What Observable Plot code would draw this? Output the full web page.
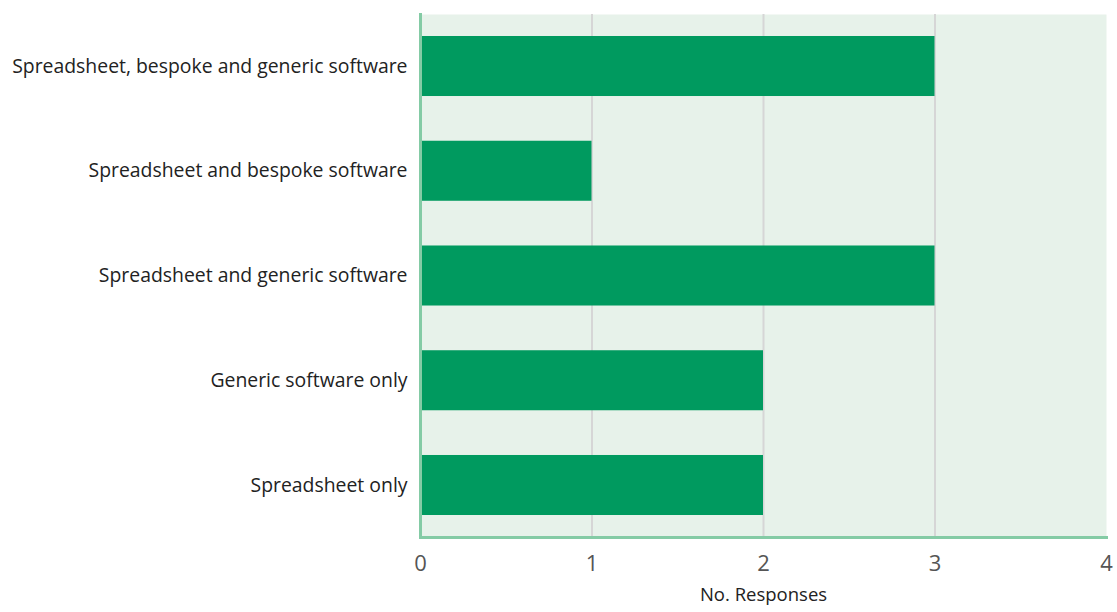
<!DOCTYPE html>
<html>
<head>
<meta charset="utf-8">
<script src="https://cdn.jsdelivr.net/npm/d3@7"></script>
<script src="https://cdn.jsdelivr.net/npm/@observablehq/plot@0.6"></script>
<style>
  html, body { margin: 0; padding: 0; background: #ffffff; }
  #chart svg { display: block; }
</style>
</head>
<body>
<div id="chart"></div>
<script>
// Software used for the task, counted by number of responses
const categories = [
  "Spreadsheet, bespoke and generic software",
  "Spreadsheet and bespoke software",
  "Spreadsheet and generic software",
  "Generic software only",
  "Spreadsheet only"
];
const responses = [3, 1, 3, 2, 2];
const xTicks = [0, 1, 2, 3, 4];

const data = categories.map((c, i) => ({category: c, value: responses[i]}));

const barGreen = "#009a5f";
const axisGreen = "#84cba5";
const panel = "#e7f2ea";

const chart = Plot.plot({
  width: 1117,
  height: 612,
  marginLeft: 420,
  marginRight: 11,
  marginTop: 14,
  marginBottom: 75,
  style: {fontFamily: "'Open Sans', 'Noto Sans', sans-serif", background: "#ffffff"},
  x: {domain: [0, 4], ticks: xTicks},
  y: {domain: categories, paddingInner: 0.427, paddingOuter: 0.21, round: false},
  marks: [
    Plot.frame({fill: panel, stroke: null}),
    Plot.gridX(xTicks.slice(1, -1), {stroke: "#d6d6d6", strokeOpacity: 1, strokeWidth: 2}),
    Plot.barX(data, {x: "value", y: "category", fill: barGreen}),
    Plot.frame({anchor: "left", stroke: axisGreen, strokeWidth: 3}),
    Plot.frame({anchor: "bottom", stroke: axisGreen, strokeWidth: 3}),
    Plot.axisY({tickSize: 0, tickPadding: 13, fontSize: 19.4, color: "#222", label: null}),
    Plot.axisX(xTicks, {tickSize: 0, tickPadding: 18, fontSize: 22, color: "#555", label: null, tickFormat: "d"}),
    Plot.text(["No. Responses"], {frameAnchor: "bottom", dy: 63, fontSize: 18.5, fill: "#222"})
  ]
});

document.getElementById("chart").appendChild(chart);
</script>
</body>
</html>
